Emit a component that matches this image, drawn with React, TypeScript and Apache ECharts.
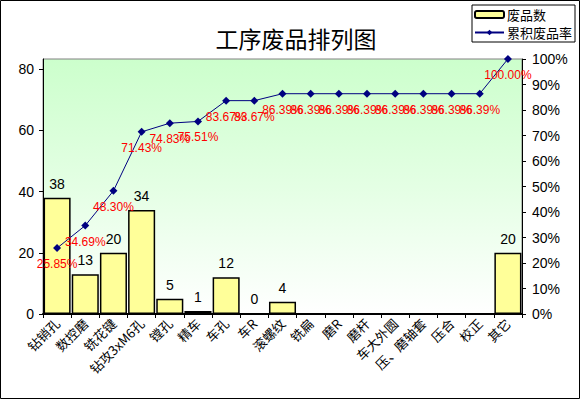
import React, { useEffect, useRef } from "react";
import * as echarts from "echarts";

const categories = [
  "钻销孔", "数控磨", "铣花键", "钻攻3xM6孔", "镗孔", "精车", "车孔", "车R", "滚螺纹",
  "铣扁", "磨R", "磨杆", "车大外圆", "压、磨轴套", "压合", "校正", "其它",
];
const defects: (number | null)[] = [38, 13, 20, 34, 5, 1, 12, 0, 4, null, null, null, null, null, null, null, 20];
const cumulative = [25.85, 34.69, 48.30, 71.43, 74.83, 75.51, 83.67, 83.67, 86.39, 86.39, 86.39, 86.39, 86.39, 86.39, 86.39, 86.39, 100.0];
const leftTicks = [0, 20, 40, 60, 80];
const rightTicks = [0, 10, 20, 30, 40, 50, 60, 70, 80, 90, 100];

const FONT = "Arial, 'Liberation Sans', 'Noto Sans CJK SC', sans-serif";
const CJK = "'Noto Sans CJK SC', sans-serif";

export default function App() {
  const ref = useRef<HTMLDivElement>(null);
  useEffect(() => {
    document.body.style.margin = "0";
    const chart = echarts.init(ref.current!, null, { renderer: "svg" });
    chart.setOption({
      animation: false,
      backgroundColor: "#ffffff",
      title: {
        text: "工序废品排列图",
        left: 291,
        textAlign: "center",
        top: 21,
        textStyle: { fontFamily: CJK, fontSize: 23, fontWeight: "normal", color: "#000" },
      },
      legend: {
        orient: "vertical",
        left: 472,
        top: 5,
        padding: [3, 3, 3, 2],
        borderColor: "#000",
        borderWidth: 1,
        itemWidth: 29,
        itemHeight: 7,
        itemGap: 5,
        textStyle: { fontFamily: CJK, fontSize: 13, color: "#000", padding: [0, 0, 0, -2] },
        data: ["废品数", "累积废品率"],
      },
      graphic: [
        {
          type: "rect",
          shape: { x: 0.5, y: 0.5, width: 579, height: 398 },
          style: { fill: "none", stroke: "#000", lineWidth: 1 },
          silent: true,
        },
      ],
      grid: {
        left: 43,
        right: 60,
        top: 59,
        bottom: 87,
        show: true,
        borderWidth: 1,
        borderColor: "#808080",
        backgroundColor: {
          type: "linear",
          x: 0, y: 0, x2: 0, y2: 1,
          colorStops: [
            { offset: 0, color: "#ccffcc" },
            { offset: 0.5, color: "#e4ffe4" },
            { offset: 1, color: "#ffffff" },
          ],
        },
      },
      xAxis: {
        type: "category",
        data: categories,
        boundaryGap: true,
        axisLine: { lineStyle: { color: "#000", width: 2 } },
        axisTick: { show: true, length: 4, lineStyle: { color: "#000" } },
        axisLabel: {
          interval: 0,
          rotate: 45,
          fontFamily: CJK,
          fontSize: 13,
          color: "#000",
          margin: 7,
        },
      },
      yAxis: [
        {
          type: "value",
          min: 0,
          max: 83.3,
          position: "left",
          splitLine: { show: false },
          axisLine: { show: true, lineStyle: { color: "#000", width: 1 } },
          axisTick: { show: true, length: 4, customValues: leftTicks, lineStyle: { color: "#000" } },
          axisLabel: { customValues: leftTicks, fontFamily: FONT, fontSize: 14, color: "#000", margin: 9 },
        },
        {
          type: "value",
          min: 0,
          max: 100,
          position: "right",
          splitLine: { show: false },
          axisLine: { show: true, lineStyle: { color: "#000", width: 1 } },
          axisTick: { show: true, length: 4, customValues: rightTicks, lineStyle: { color: "#000" } },
          axisLabel: {
            customValues: rightTicks,
            formatter: "{value}%",
            fontFamily: FONT,
            fontSize: 14,
            color: "#000",
            margin: 10,
          },
        },
      ],
      series: [
        {
          name: "废品数",
          type: "bar",
          yAxisIndex: 0,
          data: defects,
          barCategoryGap: "4%",
          itemStyle: { color: "#ffff99", borderColor: "#000", borderWidth: 1.5 },
          label: {
            show: true,
            position: "top",
            distance: 7,
            fontFamily: FONT,
            fontSize: 14,
            color: "#000",
          },
        },
        {
          name: "累积废品率",
          type: "line",
          yAxisIndex: 1,
          data: cumulative,
          symbol: "diamond",
          symbolSize: 8,
          lineStyle: { color: "#000080", width: 1 },
          itemStyle: { color: "#000080" },
          label: {
            show: true,
            position: "bottom",
            distance: 6,
            fontFamily: FONT,
            fontSize: 12,
            color: "#ff0000",
            formatter: (p: any) => p.value.toFixed(2) + "%",
          },
        },
      ],
    });
    return () => chart.dispose();
  }, []);
  return <div ref={ref} style={{ width: 582, height: 401 }} />;
}
